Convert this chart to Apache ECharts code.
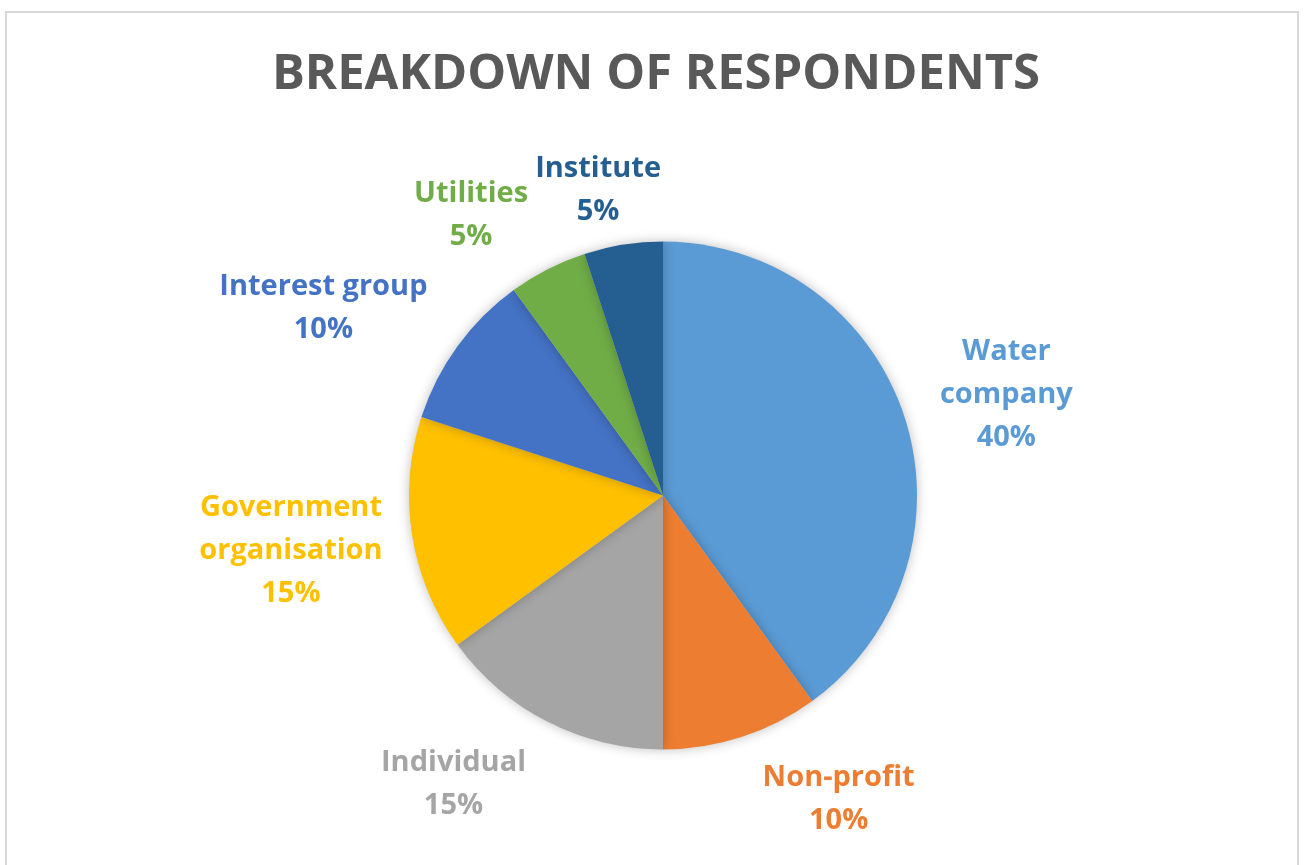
<!DOCTYPE html>
<html>
<head>
<meta charset="utf-8">
<script src="https://cdn.jsdelivr.net/npm/echarts@6/dist/echarts.min.js"></script>
<style>
  html, body { margin: 0; padding: 0; background: #ffffff; }
  #chart { width: 1306px; height: 865px; }
</style>
</head>
<body>
<div id="chart"></div>
<script>
// ---- data ----
const categories = ['Water company', 'Non-profit', 'Individual', 'Government organisation', 'Interest group', 'Utilities', 'Institute'];
const shares = [40, 10, 15, 15, 10, 5, 5];
const titleText = 'BREAKDOWN OF RESPONDENTS';

// ---- styles ----
const colors = ['#5B9BD5', '#ED7D31', '#A5A5A5', '#FFC000', '#4472C4', '#70AD47', '#255E91'];
const wrapNames = ['Water company', 'Government organisation'];
const labelAngleNudge = [1.6, -12, 9, 0.6, -7.1, -7.4, -3];
const labelRadialNudge = [0, 0, 3, 0, 0, -4, -19];
const pieCenter = [663, 495.5];
const pieRadius = 254;
const labelGap = 22;

const chart = echarts.init(document.getElementById('chart'), null, { renderer: 'canvas' });

const total = shares.reduce((a, b) => a + b, 0);
const midAngles = [];
{
  let acc = 0;
  for (let i = 0; i < shares.length; i++) {
    midAngles.push((acc + shares[i] / 2) / total * 360);
    acc += shares[i];
  }
}

const option = {
  backgroundColor: '#ffffff',
  animation: false,
  title: {
    text: titleText,
    left: 651,
    top: 46,
    textAlign: 'center',
    textStyle: {
      fontFamily: 'Open Sans',
      fontWeight: 'bold',
      fontSize: 49,
      color: '#595959'
    }
  },
  graphic: [{
    type: 'rect',
    silent: true,
    shape: { x: 6, y: 12, width: 1292, height: 900 },
    style: { fill: 'none', stroke: '#D9D9D9', lineWidth: 2 }
  }],
  series: [{
    type: 'pie',
    center: pieCenter,
    radius: pieRadius,
    startAngle: 90,
    clockwise: true,
    avoidLabelOverlap: false,
    itemStyle: {
      borderWidth: 0,
      shadowBlur: 12,
      shadowColor: 'rgba(0,0,0,0.25)'
    },
    label: {
      show: true,
      position: 'outside',
      fontFamily: 'Open Sans',
      fontWeight: 'bold',
      fontSize: 29,
      lineHeight: 43,
      align: 'center',
      formatter: function (p) {
        const name = wrapNames.indexOf(p.name) >= 0 ? p.name.replace(' ', '\n') : p.name;
        return name + '\n' + Math.round(p.percent) + '%';
      }
    },
    labelLine: { show: false },
    emphasis: { disabled: true },
    labelLayout: function (params) {
      const i = params.dataIndex;
      const rect = params.labelRect;
      const w = rect.width / 2, h = rect.height / 2;
      const th = (midAngles[i] + labelAngleNudge[i]) * Math.PI / 180;
      const ux = Math.sin(th), uy = -Math.cos(th);
      const d = pieRadius + labelGap + labelRadialNudge[i] + w * Math.abs(ux) + h * Math.abs(uy);
      return {
        x: pieCenter[0] + d * ux,
        y: pieCenter[1] + d * uy,
        align: 'center',
        verticalAlign: 'middle',
        hideOverlap: false
      };
    },
    data: categories.map((c, i) => ({
      name: c,
      value: shares[i],
      itemStyle: { color: colors[i] },
      label: { color: colors[i] }
    }))
  }]
};

chart.setOption(option);
</script>
</body>
</html>
